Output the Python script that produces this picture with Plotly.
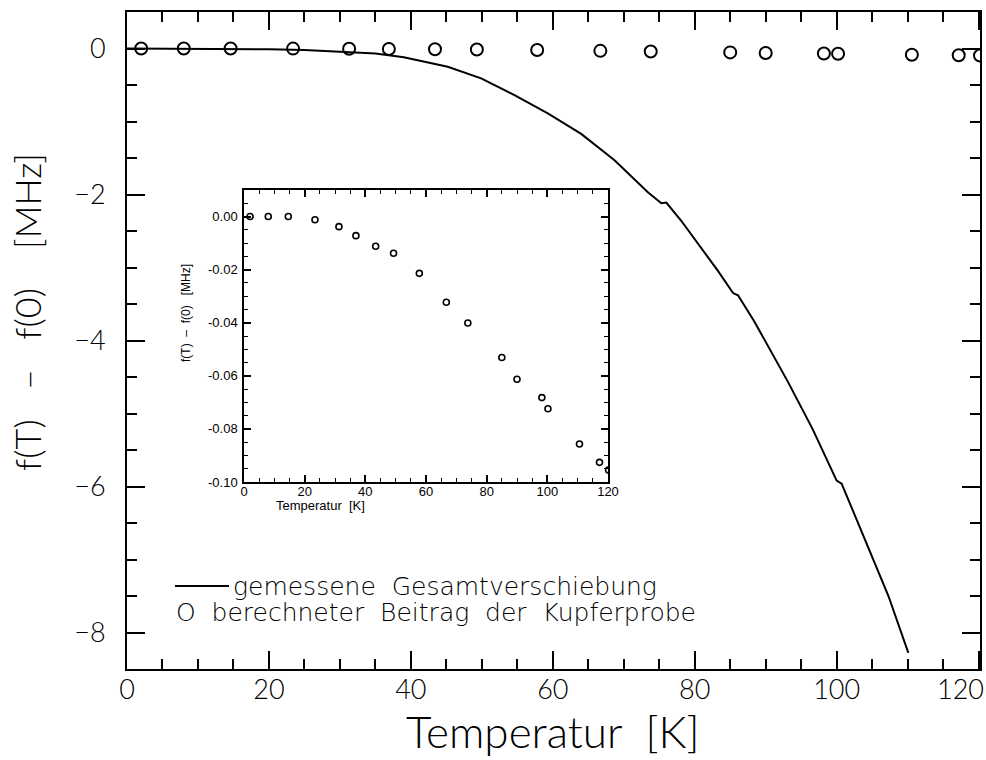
import plotly.graph_objects as go

# Measured total frequency shift f(T) - f(0) in MHz
t_meas = [0, 10, 20, 25, 30, 35, 39, 45.2, 49.9, 54.6, 59.3, 64.0, 68.7, 73.4, 75.3,
          76.0, 78.1, 80.9, 83.3, 85.4, 86.1, 88.4, 90.8, 93.1, 96.6, 100.0, 100.7,
          102.8, 104.9, 107.3, 110.1]
df_meas = [0, 0, -0.01, -0.02, -0.04, -0.07, -0.12, -0.25, -0.41, -0.64, -0.89, -1.17,
           -1.53, -1.97, -2.12, -2.11, -2.36, -2.73, -3.05, -3.35, -3.38, -3.74, -4.15,
           -4.56, -5.21, -5.92, -5.96, -6.45, -6.95, -7.50, -8.28]

# Calculated contribution of the copper sample (MHz)
t_cu = [2.0, 8.0, 14.6, 23.4, 31.3, 36.9, 43.4, 49.3, 57.8, 66.7, 73.8, 85.0, 90.0,
        98.2, 100.2, 110.6, 117.2, 120.2]
df_cu = [0.0, 0.0, 0.0, -0.0012, -0.0038, -0.0072, -0.0112, -0.0138, -0.0214, -0.0323,
         -0.0401, -0.0531, -0.0613, -0.0682, -0.0724, -0.0857, -0.0926, -0.0955]

# Tick labels
x_tickvals = [0, 20, 40, 60, 80, 100, 120]
x_ticktext = ["0", "20", "40", "60", "80", "100", "120"]
y_tickvals = [0, -2, -4, -6, -8]
y_ticktext = ["0", "\u22122", "\u22124", "\u22126", "\u22128"]
inset_x_tickvals = [0, 20, 40, 60, 80, 100, 120]
inset_y_tickvals = [0.0, -0.02, -0.04, -0.06, -0.08, -0.10]
inset_y_ticktext = ["0.00", "-0.02", "-0.04", "-0.06", "-0.08", "-0.10"]

MAIN_FONT = "Lato"
KEY_FONT = "DejaVu Sans"
INSET_FONT = "Liberation Sans"
BLACK = "black"

# plot-area geometry in pixels, used to place the free-standing texts
L, R, T, B = 127, 980, 12, 669
W, H = R - L, B - T


def px(x):
    return (x - L) / W


def py(y):
    return (B - y) / H


tick_font = dict(family=MAIN_FONT, size=27, color=BLACK, weight=300)

fig = go.Figure()

fig.add_trace(go.Scatter(
    x=t_meas, y=df_meas, mode="lines",
    line=dict(color=BLACK, width=2),
    xaxis="x", yaxis="y", showlegend=False,
))
fig.add_trace(go.Scatter(
    x=t_cu, y=df_cu, mode="markers",
    marker=dict(symbol="circle-open", size=12, color=BLACK, line=dict(width=2, color=BLACK)),
    xaxis="x", yaxis="y", showlegend=False,
))
# inset: copper contribution on a magnified scale
fig.add_trace(go.Scatter(
    x=t_cu, y=df_cu, mode="markers",
    marker=dict(symbol="circle-open", size=6, color=BLACK, line=dict(width=1.6, color=BLACK)),
    xaxis="x2", yaxis="y2", showlegend=False,
))

main_axis = dict(
    showline=True, linewidth=2, linecolor=BLACK, mirror="ticks",
    ticks="inside", tickwidth=2, tickcolor=BLACK, ticklen=18,
    showgrid=False, zeroline=False, automargin=False,
    tickfont=tick_font,
)
inset_axis = dict(
    showline=True, linewidth=1.5, linecolor=BLACK, mirror="ticks",
    ticks="inside", tickwidth=1.5, tickcolor=BLACK, ticklen=7,
    showgrid=False, zeroline=False,
    tickfont=dict(family=INSET_FONT, size=13, color=BLACK),
)

fig.update_layout(
    width=986, height=760,
    margin=dict(l=L, r=986 - R, t=T, b=760 - B, autoexpand=False),
    paper_bgcolor="white", plot_bgcolor="white",
    xaxis=dict(
        main_axis, domain=[0, 1], range=[0, 120.2], anchor="y",
        # the last label sits flush against the right frame and is set separately
        tickmode="array", tickvals=x_tickvals, ticktext=x_ticktext[:-1] + [""],
        minor=dict(dtick=5, ticks="inside", ticklen=10, tickwidth=2, tickcolor=BLACK),
        ticklabelstandoff=-4,
    ),
    yaxis=dict(
        main_axis, domain=[0, 1], range=[-8.5, 0.5], anchor="x",
        tickmode="array", tickvals=y_tickvals, ticktext=y_ticktext,
        minor=dict(dtick=0.5, ticks="inside", ticklen=10, tickwidth=2, tickcolor=BLACK),
        ticklabelstandoff=14,
    ),
    xaxis2=dict(
        inset_axis, domain=[px(244), px(608)], range=[0, 120], anchor="y2",
        tickmode="array", tickvals=inset_x_tickvals,
        minor=dict(dtick=5, ticks="inside", ticklen=4, tickwidth=1.2, tickcolor=BLACK),
        ticklabelstandoff=-3,
    ),
    yaxis2=dict(
        inset_axis, domain=[py(482), py(190)], range=[-0.1, 0.01], anchor="x2",
        tickmode="array", tickvals=inset_y_tickvals, ticktext=inset_y_ticktext,
        minor=dict(dtick=0.005, ticks="inside", ticklen=4, tickwidth=1.2, tickcolor=BLACK),
        ticklabelstandoff=2,
    ),
)

annotations = [
    # right-most x tick label, nudged inward from its tick
    dict(text=x_ticktext[-1], xref="x", yref="paper", x=x_tickvals[-1], y=py(688),
         xshift=-18, showarrow=False, xanchor="center", yanchor="middle",
         font=tick_font),
    # main x-axis title
    dict(text="Temperatur\u00a0\u00a0[K]",
         xref="paper", yref="paper", x=px(553), y=py(759),
         showarrow=False, xanchor="center", yanchor="bottom",
         font=dict(family=MAIN_FONT, size=44, color=BLACK, weight=300)),
    # main y-axis title
    dict(text="f(T)\u00a0\u00a0\u00a0\u2013\u00a0\u00a0\u00a0f(0)\u00a0\u00a0\u00a0\u00a0[MHz]",
         xref="paper", yref="paper", x=px(27), y=py(312), textangle=-90,
         showarrow=False, xanchor="center", yanchor="middle",
         font=dict(family=MAIN_FONT, size=36, color=BLACK, weight=300)),
    # inset axis titles
    dict(text="f(T)\u00a0\u00a0\u2013\u00a0\u00a0f(0)\u00a0\u00a0\u00a0[MHz]",
         xref="paper", yref="paper", x=px(186), y=py(313), textangle=-90,
         showarrow=False, xanchor="center", yanchor="middle",
         font=dict(family=INSET_FONT, size=12, color=BLACK)),
    dict(text="Temperatur\u00a0\u00a0[K]",
         xref="paper", yref="paper", x=px(320), y=py(505),
         showarrow=False, xanchor="center", yanchor="middle",
         font=dict(family=INSET_FONT, size=13, color=BLACK)),
    # key
    dict(text="gemessene\u00a0\u00a0Gesamtverschiebung",
         xref="paper", yref="paper", x=px(231), y=py(586),
         showarrow=False, xanchor="left", yanchor="middle",
         font=dict(family=KEY_FONT, size=25, color=BLACK, weight=200)),
    dict(text="O\u00a0\u00a0berechneter\u00a0\u00a0Beitrag\u00a0\u00a0der\u00a0\u00a0Kupferprobe",
         xref="paper", yref="paper", x=px(174), y=py(612),
         showarrow=False, xanchor="left", yanchor="middle",
         font=dict(family=KEY_FONT, size=25, color=BLACK, weight=200)),
]
fig.update_layout(annotations=annotations)

# key line sample for the measured curve
fig.add_shape(type="line", xref="paper", yref="paper",
              x0=px(175), x1=px(229), y0=py(586), y1=py(586),
              line=dict(color=BLACK, width=2))

fig.write_html("out.html")
